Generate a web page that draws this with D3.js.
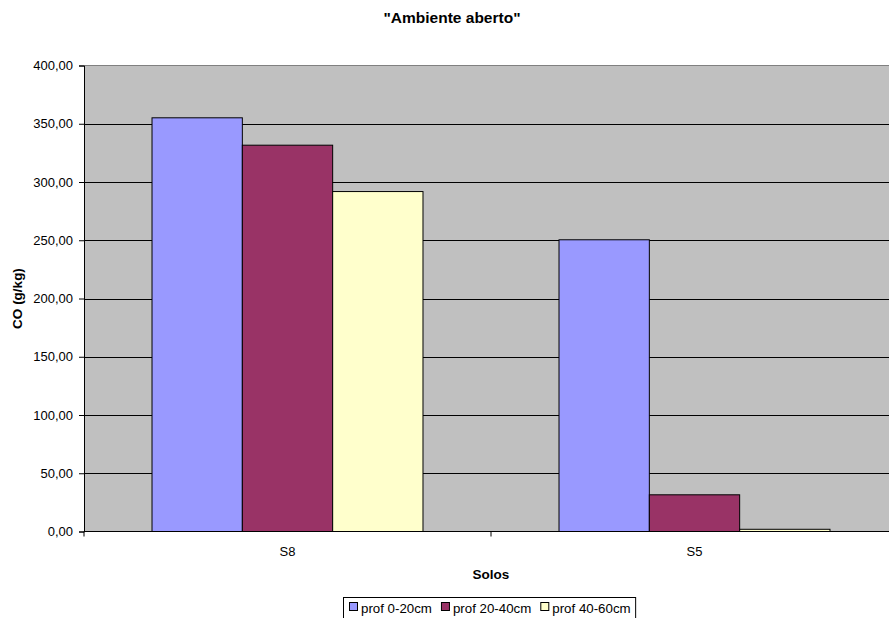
<!DOCTYPE html>
<html>
<head>
<meta charset="utf-8">
<script src="https://cdn.jsdelivr.net/npm/d3@7"></script>
<style>
  html, body { margin: 0; padding: 0; background: #fff; }
  svg { display: block; font-family: "Liberation Sans", Arial, sans-serif; }
</style>
</head>
<body>
<svg id="chart" width="889" height="618"></svg>
<script>
const title = '"Ambiente aberto"';
const categories = ["S8", "S5"];
const seriesNames = ["prof 0-20cm", "prof 20-40cm", "prof 40-60cm"];
const seriesColors = ["#9999FF", "#993366", "#FFFFCC"];
const values020 = [355.1, 250.4];
const values2040 = [331.6, 31.5];
const values4060 = [291.8, 1.9];
const yTicks = [0, 50, 100, 150, 200, 250, 300, 350, 400];
const yLabel = "CO (g/kg)";
const xLabel = "Solos";

const seriesValues = [values020, values2040, values4060];

const svg = d3.select("#chart");
const pLeft = 84, pRight = 898, pTop = 65.5, pBottom = 531.5;

const locale = d3.formatLocale({decimal: ",", thousands: ".", grouping: [3], currency: ["", ""]});
const fmt = locale.format(".2f");

const y = d3.scaleLinear().domain([0, 400]).range([pBottom, pTop]);
const x0 = d3.scaleBand().domain(categories).range([pLeft, pRight]).padding(0);
const x1 = d3.scaleBand().domain(seriesNames).range([0, x0.bandwidth()]).paddingInner(0).paddingOuter(0.753);

// plot background
svg.append("rect").attr("x", pLeft).attr("y", pTop).attr("width", pRight - pLeft).attr("height", pBottom - pTop)
  .attr("fill", "#C0C0C0");
svg.append("line").attr("x1", pLeft).attr("x2", pRight).attr("y1", pTop).attr("y2", pTop)
  .attr("stroke", "#808080").attr("stroke-width", 1);

// grid lines
svg.append("g").selectAll("line").data(yTicks.filter(d => d > 0 && d < 400)).join("line")
  .attr("x1", pLeft).attr("x2", pRight)
  .attr("y1", d => Math.round(y(d)) + 0.5).attr("y2", d => Math.round(y(d)) + 0.5)
  .attr("stroke", "#000").attr("stroke-width", 1);

// bars
const groups = svg.append("g").selectAll("g").data(categories).join("g")
  .attr("transform", d => `translate(${x0(d)},0)`);
groups.selectAll("rect").data((c, ci) => seriesNames.map((s, si) => ({s, si, v: seriesValues[si][ci]}))).join("rect")
  .attr("x", d => x1(d.s))
  .attr("y", d => y(d.v))
  .attr("width", x1.bandwidth())
  .attr("height", d => pBottom - y(d.v))
  .attr("fill", d => seriesColors[d.si])
  .attr("stroke", "#000").attr("stroke-width", 1);

// y axis
const yAxis = d3.axisLeft(y).tickValues(yTicks).tickFormat(fmt).tickSize(5).tickPadding(6);
const gy = svg.append("g").attr("transform", `translate(${pLeft},0)`).call(yAxis);
gy.select(".domain").attr("stroke", "#000");
gy.selectAll("text").attr("font-size", 13).attr("fill", "#000").attr("font-family", "Liberation Sans, Arial, sans-serif");
gy.selectAll(".tick line").attr("stroke", "#000");

// x axis
svg.append("line").attr("x1", pLeft).attr("x2", pRight).attr("y1", pBottom).attr("y2", pBottom).attr("stroke", "#000");
const xBoundaries = categories.map(c => x0(c)).concat([x0(categories[categories.length - 1]) + x0.bandwidth()]);
svg.append("g").selectAll("line").data(xBoundaries).join("line")
  .attr("x1", d => d).attr("x2", d => d).attr("y1", pBottom).attr("y2", pBottom + 5).attr("stroke", "#000");
svg.append("g").selectAll("text").data(categories).join("text")
  .attr("x", d => x0(d) + x0.bandwidth() / 2).attr("y", 556)
  .attr("text-anchor", "middle").attr("font-size", 13).text(d => d);

// titles
svg.append("text").attr("x", 452).attr("y", 23).attr("text-anchor", "middle")
  .attr("font-size", 15.5).attr("font-weight", "bold").text(title);
svg.append("text").attr("x", (pLeft + pRight) / 2).attr("y", 579).attr("text-anchor", "middle")
  .attr("font-size", 13.5).attr("font-weight", "bold").text(xLabel);
svg.append("text").attr("transform", `translate(22,${(pTop + pBottom) / 2}) rotate(-90)`).attr("text-anchor", "middle")
  .attr("font-size", 13.5).attr("font-weight", "bold").text(yLabel);

// legend
const lg = svg.append("g");
const box = lg.append("rect").attr("x", 343.5).attr("y", 597.5).attr("height", 22).attr("fill", "#fff").attr("stroke", "#000");
let cx = 349;
seriesNames.forEach((s, i) => {
  lg.append("rect").attr("x", cx + 0.5).attr("y", 602.5).attr("width", 8).attr("height", 8)
    .attr("fill", seriesColors[i]).attr("stroke", "#000");
  const t = lg.append("text").attr("x", cx + 12).attr("y", 612.5).attr("font-size", 13.3).text(s);
  cx = cx + 12 + t.node().getComputedTextLength() + 9;
});
box.attr("width", cx - 9 + 5 - 343.5);
</script>
</body>
</html>
